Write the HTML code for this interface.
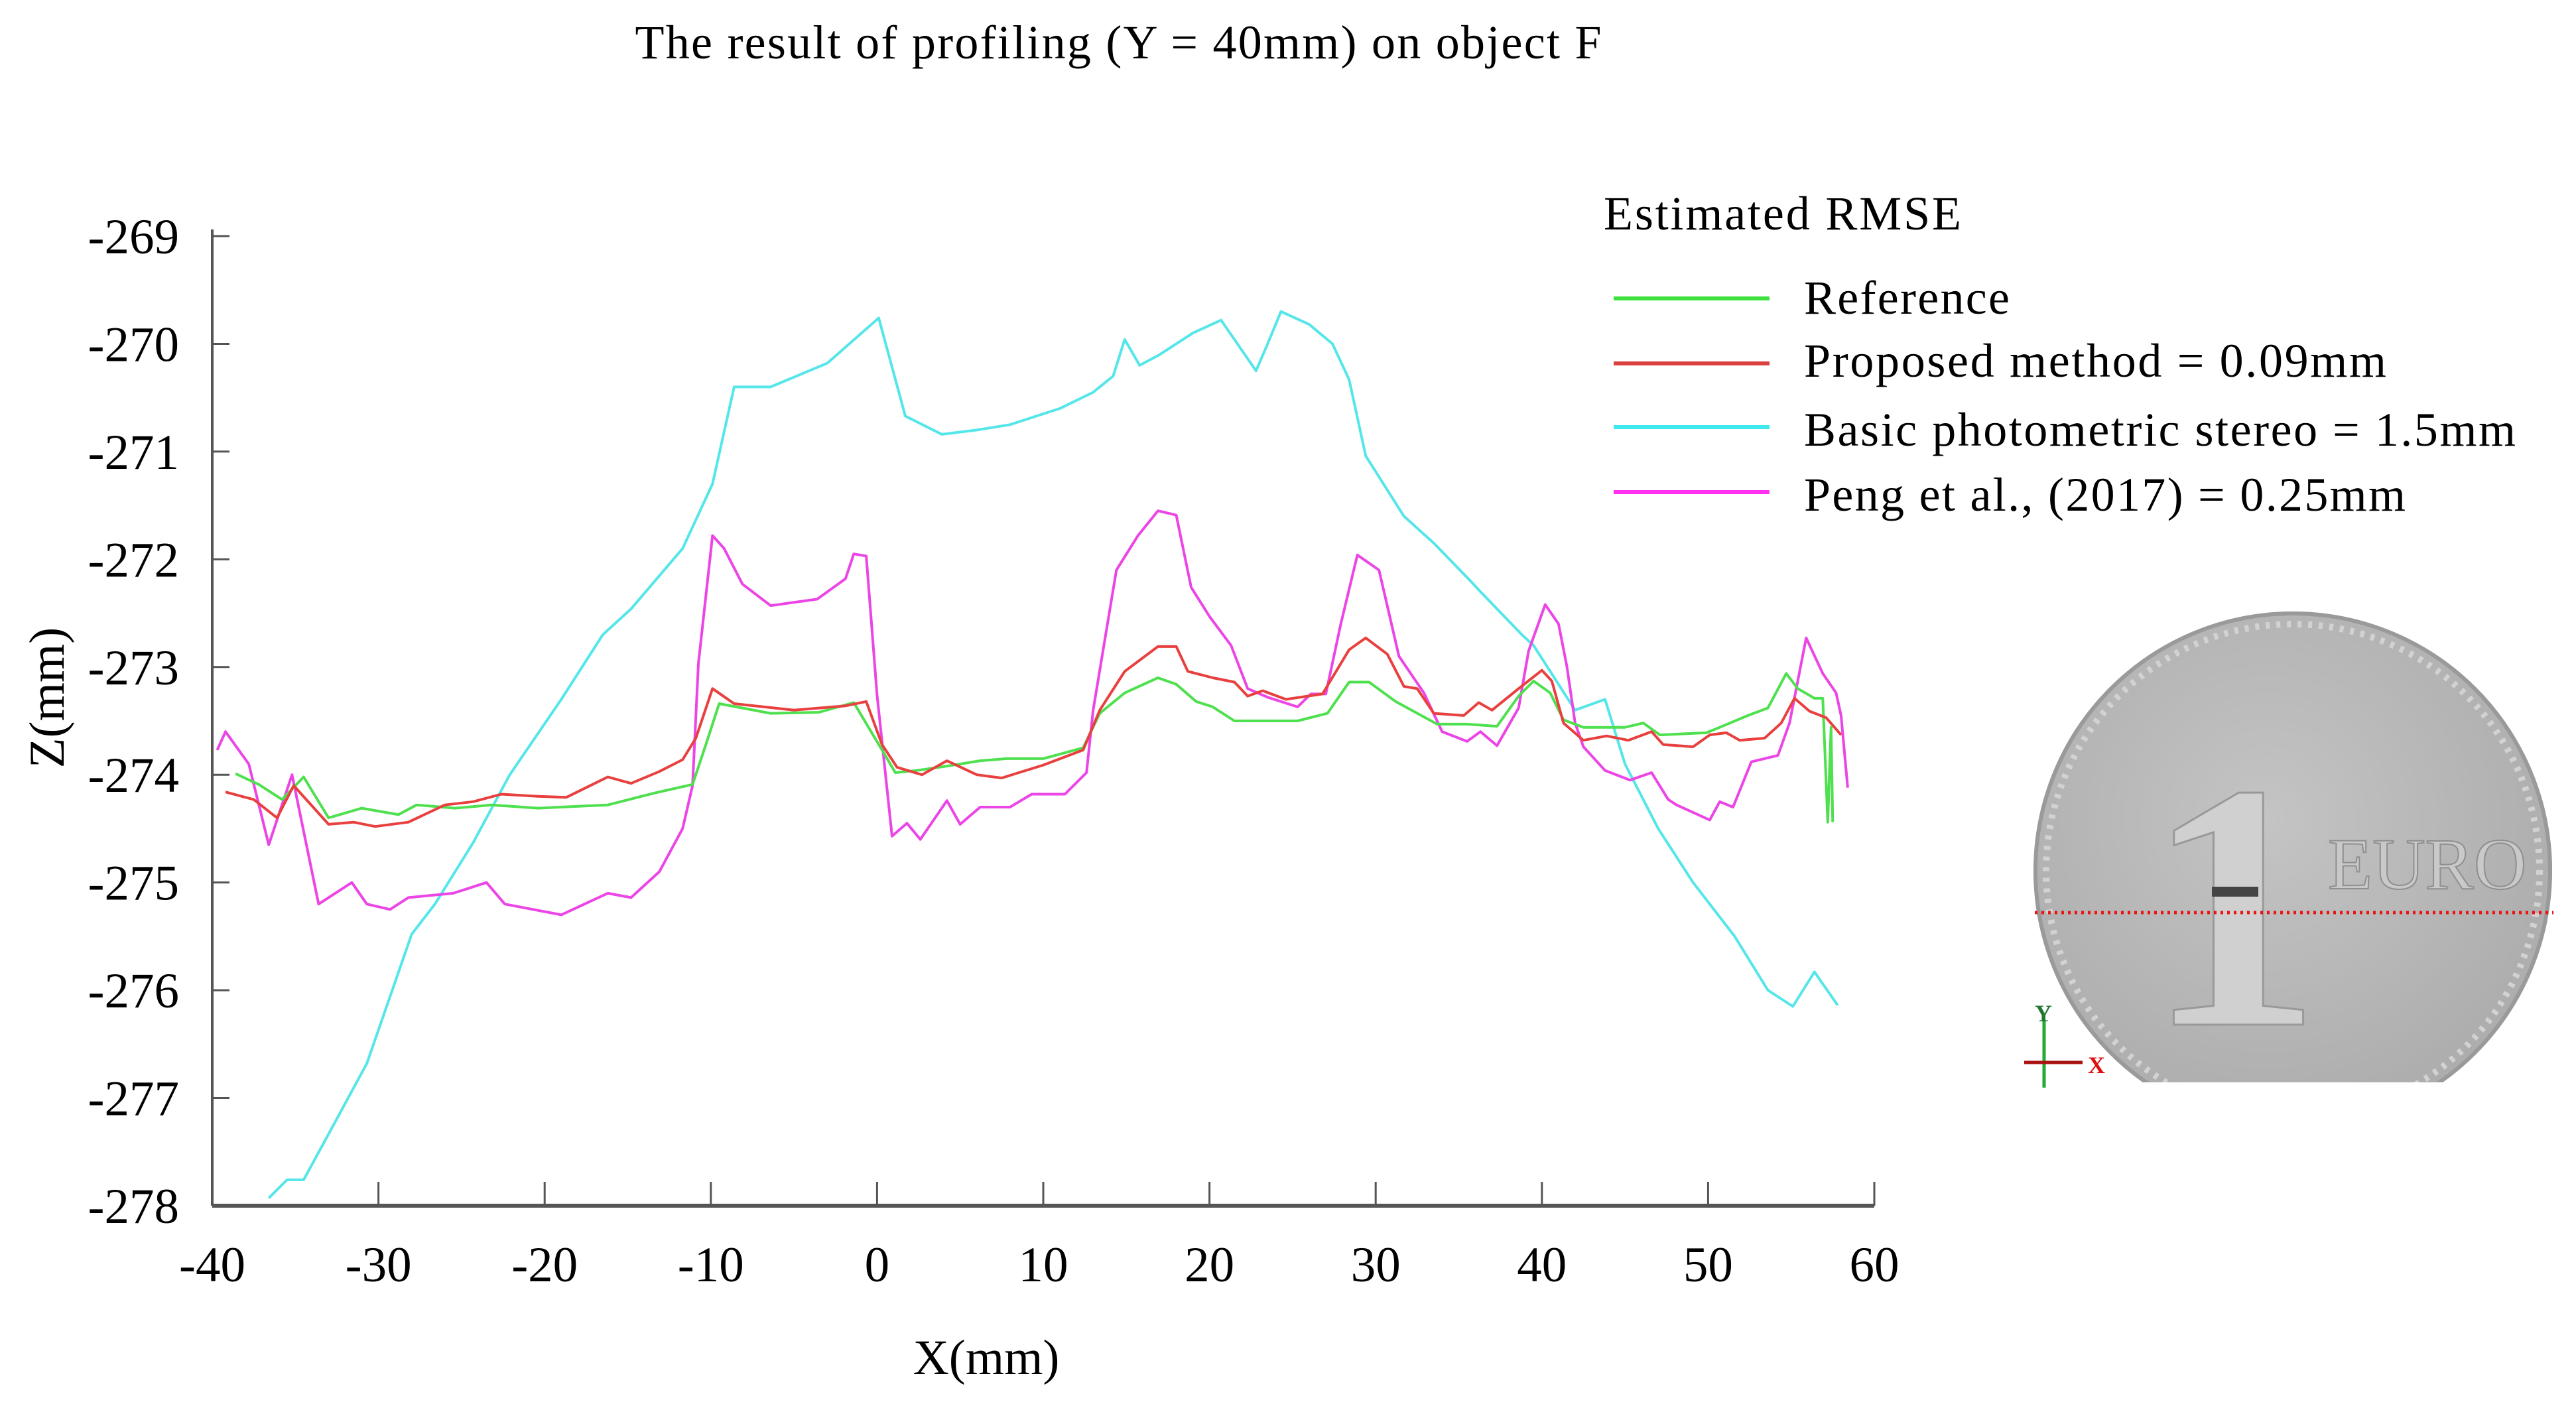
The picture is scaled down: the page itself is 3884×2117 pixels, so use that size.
<!DOCTYPE html>
<html><head><meta charset="utf-8"><style>
html,body{margin:0;padding:0;background:#fff;}
svg{display:block;font-family:"Liberation Serif",serif;}
</style></head><body>
<svg id="chart" width="3884" height="2117" viewBox="0 0 3884 2117" xmlns="http://www.w3.org/2000/svg">
<rect width="3884" height="2117" fill="#fff"/>
<text x="1686" y="88" font-size="72" text-anchor="middle" textLength="1457">The result of profiling (Y = 40mm) on object F</text>
<g id="axes"></g>
<g id="series"></g>
<text x="1487" y="2072" font-size="75" text-anchor="middle">X(mm)</text>
<text transform="translate(96,1052) rotate(-90)" font-size="75" text-anchor="middle">Z(mm)</text>
<g>
<text x="2418" y="346" font-size="72" textLength="539">Estimated RMSE</text>
<g><line x1="2433" y1="450" x2="2668" y2="450" stroke="#3ee03e" stroke-width="6"/><text x="2720" y="473" font-size="72" textLength="310">Reference</text></g>
<g><line x1="2433" y1="548" x2="2668" y2="548" stroke="#d9403f" stroke-width="6"/><text x="2720" y="568" font-size="72" textLength="878">Proposed method = 0.09mm</text></g>
<g><line x1="2433" y1="644" x2="2668" y2="644" stroke="#3ee8ee" stroke-width="6"/><text x="2720" y="672" font-size="72" textLength="1073">Basic photometric stereo = 1.5mm</text></g>
<g><line x1="2433" y1="742" x2="2668" y2="742" stroke="#ff30ef" stroke-width="6"/><text x="2720" y="770" font-size="72" textLength="907">Peng et al., (2017) = 0.25mm</text></g>
</g>
<g>
<defs><clipPath id="cc"><rect x="3000" y="900" width="884" height="732"/></clipPath>
<radialGradient id="cg" cx="0.45" cy="0.4" r="0.7"><stop offset="0" stop-color="#c4c4c4"/><stop offset="1" stop-color="#a9a9a9"/></radialGradient></defs>
<g clip-path="url(#cc)">
<circle cx="3457" cy="1313" r="391" fill="url(#cg)"/>
<circle cx="3457" cy="1313" r="372" fill="none" stroke="#d2d2d2" stroke-width="10" stroke-dasharray="6 10"/>
<circle cx="3457" cy="1313" r="388" fill="none" stroke="#9a9a9a" stroke-width="6"/>
</g>
<text x="3235" y="1545" font-size="530" fill="#d0d0d0" stroke="#999" stroke-width="3" font-weight="bold">1</text>
<text x="3510" y="1340" font-size="110" fill="#c9c9c9" stroke="#8f8f8f" stroke-width="2">EURO</text>
<rect x="3335" y="1337" width="70" height="15" fill="#444"/>
<line x1="3068" y1="1376" x2="3850" y2="1376" stroke="#ee1111" stroke-width="5" stroke-dasharray="4 6"/>
<line x1="3082" y1="1640" x2="3082" y2="1540" stroke="#22aa33" stroke-width="5"/>
<line x1="3052" y1="1602" x2="3140" y2="1602" stroke="#aa1111" stroke-width="5"/>
<text x="3068" y="1540" font-size="36" fill="#227733" font-weight="bold">Y</text>
<text x="3148" y="1618" font-size="36" fill="#dd1111" font-weight="bold">X</text>
</g>
</svg>
<script>
const xTicks=[-40,-30,-20,-10,0,10,20,30,40,50,60];
const yTicks=[-269,-270,-271,-272,-273,-274,-275,-276,-277,-278];
const basicX=[-36.6,-35.5,-34.5,-32.7,-30.7,-28,-26.6,-24.3,-22.1,-19,-16.5,-14.8,-11.7,-9.9,-8.6,-6.4,-3,0.1,1.7,3.9,6,8,11,13,14.2,14.9,15.8,17,19,20.7,22.8,23.5,24.3,26,27.4,28.4,29.4,31.7,33.5,35.7,36.3,38.8,39.5,42,43.8,45,47,49.1,51.6,53.6,55.1,56.4,57.8];
const basicZ=[-277.93,-277.76,-277.76,-277.25,-276.68,-275.48,-275.2,-274.63,-274.0,-273.3,-272.7,-272.46,-271.9,-271.3,-270.4,-270.4,-270.18,-269.76,-270.67,-270.84,-270.8,-270.75,-270.6,-270.45,-270.3,-269.96,-270.2,-270.1,-269.9,-269.78,-270.25,-270.0,-269.7,-269.82,-270.0,-270.33,-271.04,-271.6,-271.85,-272.2,-272.3,-272.7,-272.8,-273.4,-273.3,-273.9,-274.5,-275.0,-275.5,-276.0,-276.15,-275.83,-276.14];
const pengX=[-39.7,-39.2,-37.8,-36.6,-35.2,-33.6,-31.6,-30.7,-29.3,-28.2,-25.5,-23.5,-22.4,-19,-16.2,-14.8,-13.1,-11.7,-11.1,-10.75,-9.9,-9.2,-8.1,-6.4,-3.6,-1.9,-1.4,-0.65,0.0,0.9,1.8,2.6,4.2,5,6.2,8,9.3,11.3,12.6,13,14.4,15.7,16.9,18,18.9,20,21.3,22.3,23.5,25.3,26.1,27,27.9,28.9,30.2,31.4,32.9,34,35.5,36.3,37.3,38.6,39.2,40.2,41,41.5,42,42.5,43.8,45.3,46.6,47.6,48.1,50.1,50.7,51.5,52.6,54.2,54.9,55.9,56.9,57.7,58.0,58.4];
const pengZ=[-273.77,-273.6,-273.9,-274.65,-274.0,-275.2,-275.0,-275.2,-275.25,-275.14,-275.1,-275.0,-275.2,-275.3,-275.1,-275.14,-274.9,-274.5,-274.1,-272.97,-271.78,-271.9,-272.23,-272.43,-272.37,-272.18,-271.95,-271.97,-273.26,-274.57,-274.45,-274.6,-274.24,-274.46,-274.3,-274.3,-274.18,-274.18,-273.98,-273.4,-272.1,-271.78,-271.55,-271.59,-272.26,-272.53,-272.8,-273.2,-273.28,-273.37,-273.25,-273.25,-272.6,-271.96,-272.1,-272.9,-273.24,-273.6,-273.69,-273.6,-273.73,-273.38,-272.85,-272.42,-272.6,-272.99,-273.52,-273.74,-273.96,-274.05,-273.98,-274.23,-274.28,-274.42,-274.25,-274.3,-273.88,-273.82,-273.52,-272.73,-273.06,-273.24,-273.45,-274.12];
const propX=[-39.2,-37.5,-36.1,-35.1,-33,-31.5,-30.2,-28.2,-26,-24.3,-22.6,-20.4,-18.7,-16.2,-14.8,-13.1,-11.7,-10.9,-9.9,-8.6,-5,-1.9,-0.65,0.3,1.2,2.7,4.2,6,7.5,10,12.4,13.4,14.9,16.9,18,18.7,20.2,21.5,22.3,23.2,24.6,26.8,28.4,29.4,30.7,31.7,32.5,33.5,35.3,36.2,37,38.6,40,40.6,41.3,42.5,43.9,45.2,46.6,47.3,49.1,50.1,51.1,51.9,53.4,54.4,55.2,56.1,57.1,58];
const propZ=[-274.16,-274.23,-274.4,-274.1,-274.46,-274.44,-274.48,-274.44,-274.28,-274.25,-274.18,-274.2,-274.21,-274.02,-274.08,-273.97,-273.86,-273.66,-273.2,-273.34,-273.4,-273.36,-273.32,-273.72,-273.93,-274.0,-273.87,-274.0,-274.03,-273.91,-273.77,-273.4,-273.04,-272.81,-272.81,-273.04,-273.1,-273.14,-273.27,-273.22,-273.3,-273.25,-272.84,-272.73,-272.88,-273.18,-273.2,-273.43,-273.45,-273.33,-273.4,-273.2,-273.03,-273.13,-273.52,-273.68,-273.64,-273.68,-273.6,-273.72,-273.74,-273.63,-273.61,-273.68,-273.66,-273.52,-273.29,-273.41,-273.47,-273.63];
const refX=[-38.6,-37.2,-35.8,-34.5,-33,-31,-28.8,-27.7,-25.4,-23.2,-20.4,-16.2,-13.4,-11.1,-10.3,-9.5,-6.4,-3.5,-1.4,0.3,1.1,2.4,4.2,6.2,7.8,10,12.4,13.4,14.9,16.9,18,19.2,20.2,21.5,23.3,25.3,27.1,28.4,29.6,31.2,33.7,35.5,37.3,38.6,39.5,40.5,41.3,42.5,45,46.1,47.1,49.9,50.7,52.4,53.6,54.7,55.4,56.4,56.9,57.2,57.4,57.5];
const refZ=[-273.99,-274.09,-274.23,-274.02,-274.4,-274.31,-274.37,-274.28,-274.31,-274.28,-274.31,-274.28,-274.17,-274.09,-273.72,-273.34,-273.43,-273.42,-273.33,-273.77,-273.98,-273.96,-273.92,-273.87,-273.85,-273.85,-273.75,-273.43,-273.24,-273.1,-273.16,-273.32,-273.37,-273.5,-273.5,-273.5,-273.43,-273.14,-273.14,-273.32,-273.53,-273.53,-273.55,-273.27,-273.13,-273.24,-273.49,-273.56,-273.56,-273.52,-273.63,-273.61,-273.56,-273.45,-273.38,-273.06,-273.2,-273.29,-273.29,-274.44,-273.56,-274.44];

const X0=320,X1=2826,Y0=356,Y1=1818;
function sx(v){return X0+(v+40)/100*(X1-X0);}
function sy(v){return Y0+(-269-v)/9*(Y1-Y0);}
const NS='http://www.w3.org/2000/svg';
const axes=document.getElementById('axes');
function mk(tag,attrs,parent){const e=document.createElementNS(NS,tag);for(const k in attrs)e.setAttribute(k,attrs[k]);parent.appendChild(e);return e;}
let l=mk('line',{x1:X0,y1:Y0-10,x2:X0,y2:Y1,stroke:'#555','stroke-width':4},axes);


l=mk('line',{x1:X0,y1:Y1,x2:X1,y2:Y1,stroke:'#555','stroke-width':6},axes);


yTicks.forEach(v=>{
  const y=sy(v);
  const t=mk('line',{x1:X0,y1:y,x2:X0+26,y2:y,stroke:'#555','stroke-width':3},axes);
  
  
  const tx=mk('text',{x:270,y:y+26,'font-size':75,'text-anchor':'end'},axes);
  tx.textContent=String(v);
  
  
});
xTicks.forEach(v=>{
  const x=sx(v);
  const t=mk('line',{x1:x,y1:Y1,x2:x,y2:Y1-36,stroke:'#555','stroke-width':3},axes);
  
  
  const tx=mk('text',{x:x,y:1932,'font-size':75,'text-anchor':'middle'},axes);
  tx.textContent=String(v);
  
  
});
const sg=document.getElementById('series');
function draw(xs,zs,color,name){
  const d=xs.map((v,i)=>(i?'L':'M')+sx(v).toFixed(1)+','+sy(zs[i]).toFixed(1)).join(' ');
  const p=mk('path',{d:d,fill:'none',stroke:color,'stroke-width':4,'stroke-linejoin':'round'},sg);
  
  
}
draw(basicX,basicZ,'#55e6ea','series-basic-photometric-stereo');
draw(pengX,pengZ,'#ec45e6','series-peng-2017');
draw(refX,refZ,'#4ee04e','series-reference');
draw(propX,propZ,'#e8403f','series-proposed-method');
</script>
</body></html>
